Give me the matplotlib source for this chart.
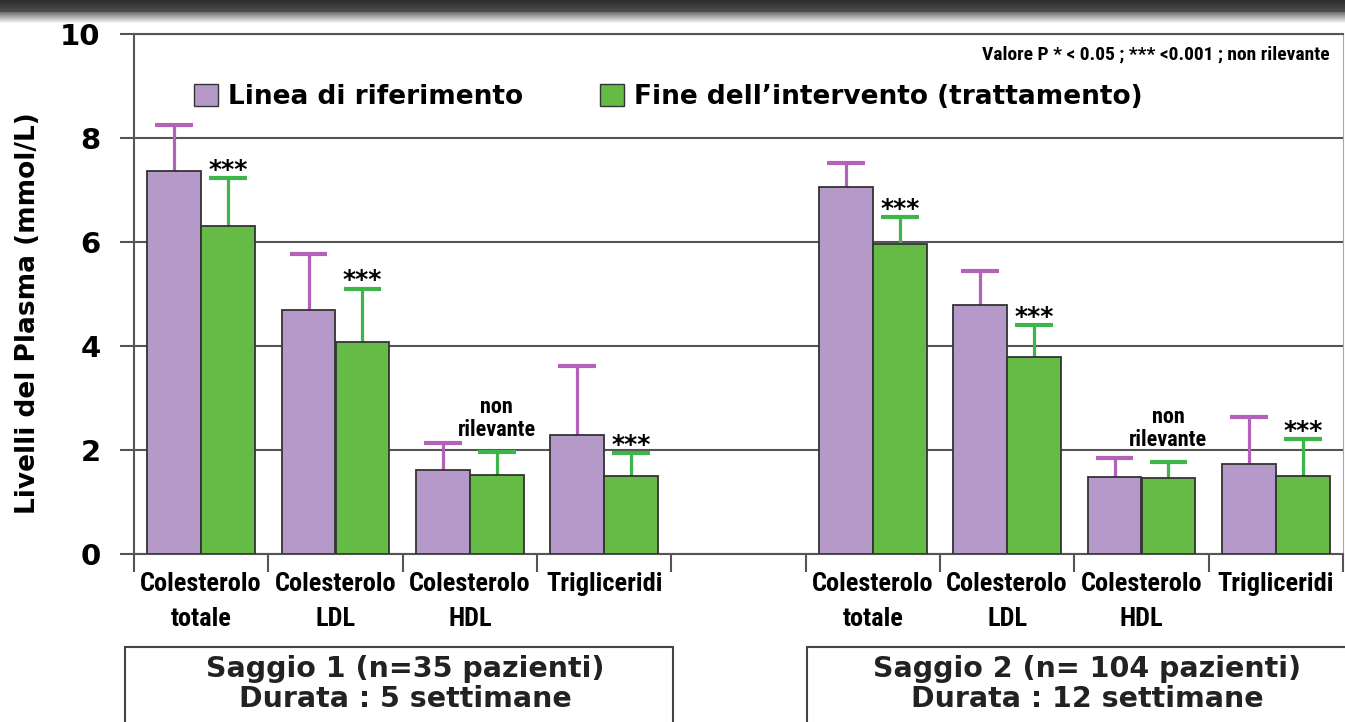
import os
import matplotlib.pyplot as plt
from matplotlib import font_manager as fm
from matplotlib.patches import Rectangle
import numpy as np

# valori letti per categoria (mmol/L) e deviazioni verso l'alto
categorie = ['Colesterolo\ntotale', 'Colesterolo\nLDL', 'Colesterolo\nHDL', 'Trigliceridi']
saggio1_base = [7.37, 4.69, 1.62, 2.29]
saggio1_base_err = [0.88, 1.08, 0.51, 1.33]
saggio1_fine = [6.31, 4.08, 1.52, 1.50]
saggio1_fine_err = [0.92, 1.02, 0.44, 0.44]
saggio2_base = [7.06, 4.79, 1.48, 1.73]
saggio2_base_err = [0.46, 0.65, 0.37, 0.90]
saggio2_fine = [5.96, 3.79, 1.46, 1.50]
saggio2_fine_err = [0.52, 0.61, 0.31, 0.71]
significativita = ['***', '***', 'non\nrilevante', '***']
titoli_saggi = ['Saggio 1 (n=35 pazienti)\nDurata : 5 settimane',
                'Saggio 2 (n= 104 pazienti)\nDurata : 12 settimane']

VIOLA = '#b59ac9'
VIOLA_ERR = '#b462b9'
VERDE = '#66bb46'
VERDE_ERR = '#3db54a'
GRIGIO = '#555555'
FONT = 'DejaVu Sans'


def font_stretto(preferenze, size):
    """Cerca un file di font stretto e grassetto tra quelli installati."""
    voci = []
    for f in fm.fontManager.ttflist:
        base = os.path.basename(f.fname).lower().replace('-', '').replace('_', '')
        if 'italic' in base or 'oblique' in base:
            continue
        voci.append((base, f.fname))
    for pat in preferenze:
        for base, fname in voci:
            if base.startswith(pat):
                return fm.FontProperties(fname=fname, size=size)
    return fm.FontProperties(family='DejaVu Sans', weight='bold', size=size * 0.75)


PREF_MOLTO = ['notosansextracondensedbold', 'notosanscondensedbold', 'robotocondensedbold',
              'opensanscondbold', 'liberationsansnarrowbold', 'dejavusanscondensedbold']
PREF_SEMI = ['notosanssemicondensedbold', 'notosanscondensedbold', 'robotocondensedbold',
             'opensanscondbold', 'liberationsansnarrowbold', 'dejavusanscondensedbold']

fp_tick = font_stretto(PREF_MOLTO, 19)
fp_nr = font_stretto(PREF_MOLTO, 16)
fp_p = font_stretto(PREF_SEMI, 14)

fig = plt.figure(figsize=(13.45, 7.22), dpi=100)
ax = fig.add_axes([134 / 1345, 1 - 554 / 722, 1209 / 1345, 520 / 722])

# banda scura in alto
banda = fig.add_axes([0, 1 - 24 / 722, 1, 24 / 722])
grad = np.concatenate([np.linspace(0.18, 0.3, 12), np.linspace(0.45, 1.0, 12)])
banda.imshow(grad[:, None], cmap='gray', vmin=0, vmax=1, aspect='auto', interpolation='bilinear')
banda.axis('off')

# slot 0-3 per il saggio 1, 5-8 per il saggio 2
slot1 = np.arange(4)
slot2 = np.arange(5, 9)
larg = 0.4
cap = 0.14


def disegna(slot, base, base_err, fine, fine_err):
    xb = slot + 0.3
    xf = slot + 0.7
    base = np.array(base)
    fine = np.array(fine)
    top_b = base + np.array(base_err)
    top_f = fine + np.array(fine_err)
    ax.vlines(xb, base, top_b, color=VIOLA_ERR, lw=2.3, zorder=2)
    ax.hlines(top_b, xb - cap, xb + cap, color=VIOLA_ERR, lw=3, zorder=2)
    ax.vlines(xf, fine, top_f, color=VERDE_ERR, lw=2.3, zorder=2)
    ax.hlines(top_f, xf - cap, xf + cap, color=VERDE_ERR, lw=3, zorder=2)
    ax.bar(xb, base, larg, color=VIOLA, edgecolor='#333333', lw=1.3, zorder=3)
    ax.bar(xf, fine, larg, color=VERDE, edgecolor='#333333', lw=1.3, zorder=3)
    for x, t, s in zip(xf, top_f, significativita):
        if s == '***':
            ax.annotate(s, (x, t), xytext=(0, 1), textcoords='offset points',
                        ha='center', va='baseline', fontsize=18, fontweight='bold',
                        family=FONT, zorder=4)
        else:
            ax.annotate(s, (x, t), xytext=(0, 8), textcoords='offset points',
                        ha='center', va='bottom', fontproperties=fp_nr,
                        linespacing=1.05, zorder=4)


disegna(slot1, saggio1_base, saggio1_base_err, saggio1_fine, saggio1_fine_err)
disegna(slot2, saggio2_base, saggio2_base_err, saggio2_fine, saggio2_fine_err)

ax.set_xlim(0, 9)
ax.set_ylim(0, 10)
ax.set_yticks([0, 2, 4, 6, 8, 10])
ax.set_yticklabels(['0', '2', '4', '6', '8', '10'], fontsize=21, fontweight='bold', family=FONT)
ax.yaxis.grid(True, color=GRIGIO, lw=1.5, zorder=0)
ax.set_axisbelow(True)
ax.tick_params(axis='y', length=10, width=1.5, color=GRIGIO, pad=14)

ax.set_xticks(np.arange(10))
ax.set_xticklabels([])
ax.tick_params(axis='x', which='major', length=13, width=1.5, color=GRIGIO)
ax.set_xticks(np.concatenate([slot1, slot2]) + 0.5, minor=True)
ax.set_xticklabels(categorie * 2, minor=True, fontproperties=fp_tick, linespacing=1.55)
ax.tick_params(axis='x', which='minor', length=0, pad=13)

for lato in ['left', 'bottom', 'top']:
    ax.spines[lato].set_color(GRIGIO)
    ax.spines[lato].set_linewidth(1.5)
ax.spines['right'].set_color('#aaaaaa')

ax.set_ylabel('Livelli del Plasma (mmol/L)', fontsize=19, fontweight='bold', family=FONT)
ax.yaxis.set_label_coords(-0.077, 0.463)

# legenda in alto
maniglie = [Rectangle((0, 0), 1, 1, fc=VIOLA, ec='#333333', lw=1),
            Rectangle((0, 0), 1, 1, fc=VERDE, ec='#333333', lw=1)]
ax.legend(maniglie, ['Linea di riferimento', 'Fine dell\u2019intervento (trattamento)'],
          ncol=2, loc='center left', bbox_to_anchor=(60 / 1209, 1 - 63 / 520),
          frameon=False, handlelength=0.9, handleheight=0.9, handletextpad=0.4,
          columnspacing=2.9, borderaxespad=0, borderpad=0,
          prop={'family': FONT, 'weight': 'bold', 'size': 19})

fig.text(1330 / 1345, 1 - 55 / 722, 'Valore P * < 0.05 ; *** <0.001 ; non rilevante',
         ha='right', va='center', fontproperties=fp_p)

# riquadri dei saggi
for x0, titolo in zip([125, 807], titoli_saggi):
    larghezza = (673 - 125) if x0 == 125 else 700
    fig.patches.append(Rectangle((x0 / 1345, -0.05), larghezza / 1345, (722 - 647) / 722 + 0.05,
                                 transform=fig.transFigure, fill=False, ec='#444444', lw=1.5))
    fig.text((x0 + 280) / 1345, 1 - 684 / 722, titolo, ha='center', va='center', fontsize=20.5,
             fontweight='bold', family=FONT, linespacing=1.05, color='#222222')

fig.savefig('out.png', dpi=100)
